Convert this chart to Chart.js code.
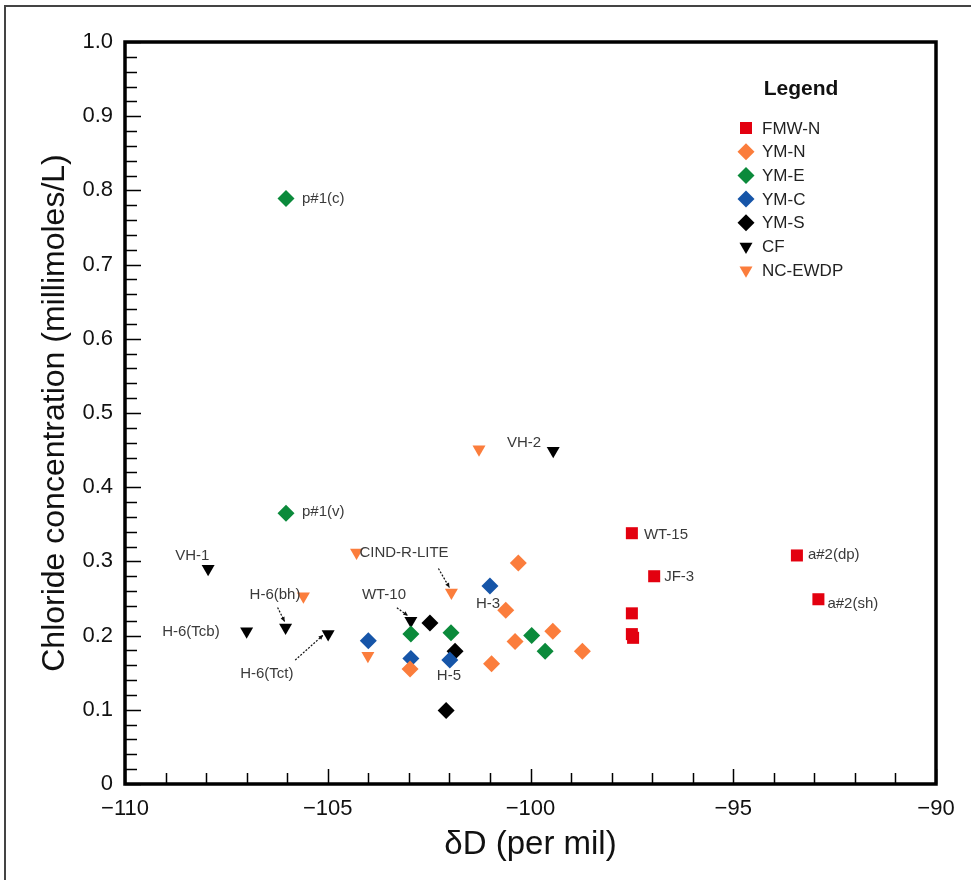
<!DOCTYPE html>
<html>
<head>
<meta charset="utf-8">
<title>Chloride vs δD</title>
<script src="https://cdn.jsdelivr.net/npm/chart.js@4.4.1/dist/chart.umd.min.js"></script>
<style>
  html, body { margin: 0; padding: 0; background: #fff; }
  #c { display: block; }
</style>
</head>
<body>
<canvas id="c" width="971" height="880"></canvas>
<script>
// ---- data: deuterium (per mil) and chloride (mmol/L) by sample group ----
const seriesNames = ['FMW-N', 'YM-N', 'YM-E', 'YM-C', 'YM-S', 'CF', 'NC-EWDP'];

const fmwnX = [-97.5, -96.95, -97.5, -97.5, -97.47, -93.43, -92.9];
const fmwnY = [0.338, 0.280, 0.230, 0.202, 0.197, 0.308, 0.249];

const ymnX = [-100.3, -100.61, -100.38, -99.45, -98.72, -100.96, -102.97];
const ymnY = [0.298, 0.234, 0.192, 0.206, 0.179, 0.162, 0.155];

const ymeX = [-106.03, -106.03, -102.95, -101.96, -99.97, -99.64];
const ymeY = [0.789, 0.365, 0.202, 0.204, 0.200, 0.179];

const ymcX = [-104.0, -102.95, -101.99, -101.0];
const ymcY = [0.193, 0.169, 0.167, 0.267];

const ymsX = [-102.48, -101.86, -102.08];
const ymsY = [0.217, 0.179, 0.099];

const cfX = [-107.95, -107.0, -106.04, -104.99, -102.95, -99.44];
const cfY = [0.290, 0.206, 0.211, 0.202, 0.220, 0.449];

const ncX = [-101.27, -104.29, -101.95, -105.6, -104.01];
const ncY = [0.451, 0.312, 0.258, 0.253, 0.173];

// axis ranges and tick labels
const xTickValues = [-110, -105, -100, -95, -90];
const yTickValues = [0, 0.1, 0.2, 0.3, 0.4, 0.5, 0.6, 0.7, 0.8, 0.9, 1.0];

// sample names written next to individual points: [series, point index]
const noteText   = ['p#1(c)', 'p#1(v)', 'VH-1', 'H-6(Tcb)', 'H-6(bh)', 'H-6(Tct)', 'WT-10',
                    'CIND-R-LITE', 'H-3', 'H-5', 'VH-2', 'WT-15', 'JF-3', 'a#2(dp)', 'a#2(sh)'];
const noteSeries = ['YM-E', 'YM-E', 'CF', 'CF', 'CF', 'CF', 'CF',
                    'NC-EWDP', 'YM-C', 'YM-C', 'CF', 'FMW-N', 'FMW-N', 'FMW-N', 'FMW-N'];
const notePoint  = [0, 1, 0, 1, 2, 3, 4, 2, 3, 2, 5, 0, 1, 5, 6];

// ---- styling ----
const ORANGE = '#fb7d3c';
const seriesStyle = {
  'FMW-N':   { color: '#e3000f', shape: 'rect',     rotation: 0,   radius: 8.5 },
  'YM-N':    { color: ORANGE,    shape: 'rectRot',  rotation: 0,   radius: 8.5 },
  'YM-E':    { color: '#0b8a3b', shape: 'rectRot',  rotation: 0,   radius: 8.5 },
  'YM-C':    { color: '#1655a8', shape: 'rectRot',  rotation: 0,   radius: 8.5 },
  'YM-S':    { color: '#000000', shape: 'rectRot',  rotation: 0,   radius: 8.5 },
  'CF':      { color: '#000000', shape: 'triangle', rotation: 180, radius: 7.5 },
  'NC-EWDP': { color: ORANGE,    shape: 'triangle', rotation: 180, radius: 7.5 }
};

// label placement relative to its point (px): dx, dy, text alignment, optional leader line
const notePlacement = {
  'p#1(c)':      { dx: 16,  dy: 0,   align: 'left' },
  'p#1(v)':      { dx: 16,  dy: -1,  align: 'left' },
  'VH-1':        { dx: -33, dy: -13, align: 'left' },
  'H-6(Tcb)':    { dx: -27, dy: 1,   align: 'right' },
  'H-6(bh)':     { dx: -36, dy: -33, align: 'left',  lead: [-8, -20, -1, -6] },
  'H-6(Tct)':    { dx: -88, dy: 40,  align: 'left',  lead: [-33, 26, -5, 1] },
  'WT-10':       { dx: -49, dy: -26, align: 'left',  lead: [-14, -13, -3, -5] },
  'CIND-R-LITE': { dx: -92, dy: -40, align: 'left',  lead: [-13, -24, -2, -5] },
  'H-3':         { dx: -14, dy: 18,  align: 'left' },
  'H-5':         { dx: -13, dy: 16,  align: 'left' },
  'VH-2':        { dx: -12, dy: -8,  align: 'right' },
  'WT-15':       { dx: 12,  dy: 2,   align: 'left' },
  'JF-3':        { dx: 10,  dy: 1,   align: 'left' },
  'a#2(dp)':     { dx: 11,  dy: -1,  align: 'left' },
  'a#2(sh)':     { dx: 9,   dy: 5,   align: 'left' }
};

const FONT = "'Liberation Sans', Arial, Helvetica, sans-serif";

function pts(xs, ys) { return xs.map((x, i) => ({ x: x, y: ys[i] })); }
const seriesData = {
  'FMW-N': pts(fmwnX, fmwnY),
  'YM-N': pts(ymnX, ymnY),
  'YM-E': pts(ymeX, ymeY),
  'YM-C': pts(ymcX, ymcY),
  'YM-S': pts(ymsX, ymsY),
  'CF': pts(cfX, cfY),
  'NC-EWDP': pts(ncX, ncY)
};

const datasets = seriesNames.map(name => {
  const s = seriesStyle[name];
  return {
    label: name,
    data: seriesData[name],
    pointStyle: s.shape,
    rotation: s.rotation,
    pointRadius: s.radius,
    pointHoverRadius: s.radius,
    backgroundColor: s.color,
    borderColor: s.color,
    borderWidth: 0,
    showLine: false
  };
});

function minusLabel(v) {
  return v < 0 ? '\u2212' + Math.abs(v) : String(v);
}

// frame, inward tick marks, point notes and the key
const decorations = {
  id: 'decorations',
  beforeDraw(chart) {
    const ctx = chart.ctx;
    ctx.save();
    ctx.fillStyle = '#fff';
    ctx.fillRect(0, 0, chart.width, chart.height);
    // outer figure border
    ctx.strokeStyle = '#444';
    ctx.lineWidth = 2;
    ctx.beginPath();
    ctx.moveTo(5, chart.height);
    ctx.lineTo(5, 6);
    ctx.lineTo(chart.width, 6);
    ctx.stroke();
    ctx.restore();
  },
  afterDatasetsDraw(chart) {
    const ctx = chart.ctx;
    const a = chart.chartArea;
    const xs = chart.scales.x, ys = chart.scales.y;
    ctx.save();

    // inward ticks
    ctx.strokeStyle = '#000';
    ctx.lineWidth = 1.5;
    ctx.beginPath();
    for (let v = -110; v <= -90; v += 1) {
      const px = Math.round(xs.getPixelForValue(v)) + 0.5;
      const len = (v % 5 === 0) ? 15 : 11;
      ctx.moveTo(px, a.bottom);
      ctx.lineTo(px, a.bottom - len);
    }
    for (let i = 0; i <= 50; i++) {
      const py = Math.round(ys.getPixelForValue(i * 0.02)) + 0.5;
      const len = (i % 5 === 0) ? 16 : 12;
      ctx.moveTo(a.left, py);
      ctx.lineTo(a.left + len, py);
    }
    ctx.stroke();

    // plot frame
    ctx.lineWidth = 3.5;
    ctx.strokeRect(a.left, a.top, a.right - a.left, a.bottom - a.top);

    // point notes
    ctx.font = '15px ' + FONT;
    ctx.fillStyle = '#3a3a3a';
    ctx.textBaseline = 'middle';
    noteText.forEach((txt, i) => {
      const ds = seriesNames.indexOf(noteSeries[i]);
      const el = chart.getDatasetMeta(ds).data[notePoint[i]];
      const p = notePlacement[txt];
      ctx.textAlign = p.align;
      ctx.fillText(txt, el.x + p.dx, el.y + p.dy);
      if (p.lead) {
        const x0 = el.x + p.lead[0], y0 = el.y + p.lead[1];
        const x1 = el.x + p.lead[2], y1 = el.y + p.lead[3];
        ctx.save();
        ctx.strokeStyle = '#111';
        ctx.lineWidth = 1.2;
        ctx.setLineDash([2, 1.5]);
        ctx.beginPath();
        ctx.moveTo(x0, y0);
        ctx.lineTo(x1, y1);
        ctx.stroke();
        ctx.setLineDash([]);
        const ang = Math.atan2(y1 - y0, x1 - x0);
        const h = 5;
        ctx.fillStyle = '#111';
        ctx.beginPath();
        ctx.moveTo(x1, y1);
        ctx.lineTo(x1 - h * Math.cos(ang - 0.45), y1 - h * Math.sin(ang - 0.45));
        ctx.lineTo(x1 - h * Math.cos(ang + 0.45), y1 - h * Math.sin(ang + 0.45));
        ctx.closePath();
        ctx.fill();
        ctx.restore();
      }
    });

    // key
    const keyMarkX = a.right - 190;
    const keyTextX = a.right - 174;
    ctx.fillStyle = '#111';
    ctx.textAlign = 'center';
    ctx.font = 'bold 21px ' + FONT;
    ctx.fillText('Legend', a.right - 135, a.top + 47);
    ctx.font = '17px ' + FONT;
    ctx.textAlign = 'left';
    seriesNames.forEach((name, i) => {
      const s = seriesStyle[name];
      const y = a.top + 86 + i * 23.7;
      ctx.fillStyle = s.color;
      Chart.helpers.drawPoint(ctx, {
        pointStyle: s.shape, rotation: s.rotation, radius: s.radius, borderWidth: 0
      }, keyMarkX, y);
      ctx.fillStyle = '#222';
      ctx.fillText(name, keyTextX, y + 1);
    });
    ctx.restore();
  }
};

Chart.defaults.font.family = FONT;
Chart.defaults.color = '#111';

new Chart(document.getElementById('c'), {
  type: 'scatter',
  data: { datasets: datasets },
  plugins: [decorations],
  options: {
    responsive: false,
    animation: false,
    events: [],
    layout: { padding: { left: 20, top: 42, right: 35, bottom: 0 } },
    plugins: {
      legend: { display: false },
      tooltip: { enabled: false }
    },
    scales: {
      x: {
        type: 'linear',
        min: -110, max: -90,
        afterFit(scale) { scale.height = 96; },
        afterBuildTicks(scale) { scale.ticks = xTickValues.map(v => ({ value: v })); },
        grid: { display: false, drawTicks: false },
        border: { display: false },
        ticks: {
          padding: 12,
          font: { size: 22 },
          color: '#111',
          callback: v => minusLabel(v)
        },
        title: {
          display: true,
          text: 'δD (per mil)',
          font: { size: 33 },
          color: '#111',
          padding: { top: 4, bottom: 15 }
        }
      },
      y: {
        type: 'linear',
        min: 0, max: 1,
        afterFit(scale) { scale.width = 105; },
        afterBuildTicks(scale) { scale.ticks = yTickValues.map(v => ({ value: v })); },
        grid: { display: false, drawTicks: false },
        border: { display: false },
        ticks: {
          padding: 12,
          font: { size: 22 },
          color: '#111',
          callback: v => (v === 0 ? '0' : v.toFixed(1))
        },
        title: {
          display: true,
          text: 'Chloride concentration (millimoles/L)',
          font: { size: 32 },
          color: '#111',
          padding: { top: 16, bottom: 4 }
        }
      }
    }
  }
});
</script>
</body>
</html>
